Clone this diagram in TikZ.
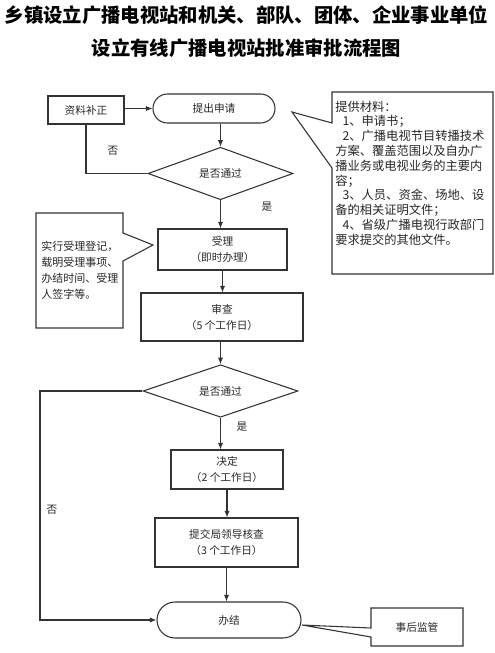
\documentclass[tikz,border=0pt]{standalone}
\usepackage{fontspec}
\setmainfont{Noto Sans CJK SC}
\usetikzlibrary{shapes.geometric,arrows.meta}
\begin{document}
\begin{tikzpicture}[x=0.75pt,y=-0.75pt,
  ln/.style={draw=black!80, line width=0.8pt},
  arr/.style={ln, -{Latex[length=5pt,width=4pt]}},
  box/.style={ln, rectangle, inner sep=0pt, align=center, font=\fontsize{8}{12}\selectfont, text=black!85},
  dec/.style={ln, diamond, inner sep=0pt, font=\fontsize{8}{10}\selectfont, text=black!85},
  lbl/.style={font=\fontsize{8}{10}\selectfont, text=black!85, inner sep=0pt},
  calltext/.style={anchor=north west, align=left, inner sep=0pt, text=black!85},
  call/.style={ln, line join=miter},
]
\useasboundingbox (0,0) rectangle (494,653);
% title
\node[align=center, inner sep=0pt, font=\fontsize{14.5}{24.75}\selectfont\bfseries] (title) at (246.5,31.5)
  {乡镇设立广播电视站和机关、部队、团体、企业事业单位\\设立有线广播电视站批准审批流程图};
% main nodes
\node[box, minimum width=57pt, minimum height=21pt] (bz) at (86,110) {资料补正};
\node[box, rounded corners=10.875pt, minimum width=91.5pt, minimum height=21.75pt] (sq) at (214,108.5) {提出申请};
\node[dec, minimum width=108.75pt, minimum height=35.25pt] (d1) at (220.5,173.5) {是否通过};
\node[box, minimum width=96.75pt, minimum height=30.75pt] (sl) at (222.5,249.5) {受理\\（即时办理）};
\node[box, minimum width=121.5pt, minimum height=36pt] (sc) at (222,317) {审查\\（5 个工作日）};
\node[dec, minimum width=116.25pt, minimum height=33pt] (d2) at (220.5,391) {是否通过};
\node[box, minimum width=84pt, minimum height=29.25pt] (jd) at (227,469.5) {决定\\（2 个工作日）};
\node[box, minimum width=107.25pt, minimum height=36.75pt] (tj) at (226.5,542.5) {提交局领导核查\\（3 个工作日）};
\node[box, rounded corners=13.5pt, minimum width=108pt, minimum height=27pt] (bj) at (229,620) {办结};
% connectors
\draw[arr] (bz.east |- sq.west) -- (sq.west);
\draw[arr] (sq.south -| d1.north) -- (d1.north);
\draw[ln] (d1.west) -| (bz.south);
\draw[arr] (d1.south) -- (d1.south |- sl.north);
\draw[arr] (sl.south) -- (sl.south |- sc.north);
\draw[arr] (d2.north |- sc.south) -- (d2.north);
\draw[arr] (d2.south) -- (d2.south |- jd.north);
\draw[arr] (jd.south) -- (jd.south |- tj.north);
\draw[arr] (tj.south) -- (tj.south |- bj.north);
\coordinate (nl) at (40,391);
\draw[arr] (d2.west) -- (nl) |- (bj.west);
% labels
\node[lbl] (n1) at (113,151) {否};
\node[lbl] (y1) at (267,207) {是};
\node[lbl] (y2) at (242,427) {是};
\node[lbl] (n2) at (52,510) {否};
% callout: materials
\draw[call] (332,92) -- (493,92) -- (493,274) -- (332,274) -- (332,168) -- (292,112) -- (332,123) -- cycle;
\node[calltext, font=\fontsize{9.2}{11.1}\selectfont] (mat) at (335,100.5)
  {提供材料：\\
   \hspace{0.6em}1、申请书；\\
   \hspace{0.6em}2、广播电视节目转播技术\\
   方案、覆盖范围以及自办广\\
   播业务或电视业务的主要内\\
   容；\\
   \hspace{0.6em}3、人员、资金、场地、设\\
   备的相关证明文件；\\
   \hspace{0.6em}4、省级广播电视行政部门\\
   要求提交的其他文件。};
% callout: registration
\draw[call] (36,213) -- (123,213) -- (123,233) -- (153,245) -- (123,261) -- (123,328) -- (36,328) -- cycle;
\node[calltext, font=\fontsize{8.25}{12}\selectfont] (reg) at (41,240.5)
  {实行受理登记，\\载明受理事项、\\办结时间、受理\\人签字等。};
% callout: supervision
\draw[call] (371,608) -- (463,608) -- (463,646) -- (371,646) -- (371,637) -- (302,625) -- (371,628) -- cycle;
\node[lbl] (jg) at (417,627) {事后监管};
\end{tikzpicture}
\end{document}
